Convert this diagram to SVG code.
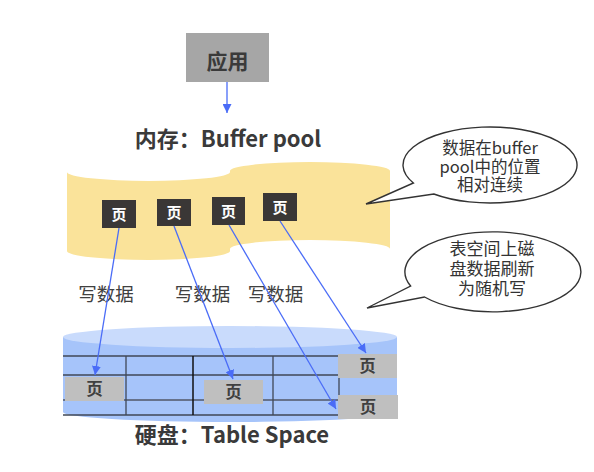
<svg xmlns="http://www.w3.org/2000/svg" width="594" height="472" viewBox="0 0 594 472">
<defs>
<marker id="ah" viewBox="0 0 10 10" refX="10" refY="5" markerWidth="9" markerHeight="9" markerUnits="userSpaceOnUse" orient="auto">
<path d="M0,0 L10,5 L0,10 Z" fill="#4a6cf7"/>
</marker>
<style>
text{font-family:"Noto Sans CJK SC","Microsoft YaHei",sans-serif;}
.title{font-size:22px;font-weight:bold;fill:#3a3a3a;text-anchor:middle;}
.lbl{font-size:18.5px;fill:#404040;text-anchor:middle;}
.dpage rect{fill:#3a3736;}
.dpage text{font-size:15px;font-weight:bold;fill:#ffffff;text-anchor:middle;}
.gpage rect{fill:#bfbfbf;}
.gpage text{font-size:16.5px;font-weight:bold;fill:#404040;text-anchor:middle;}
.conn{stroke:#4a6cf7;stroke-width:1.3;fill:none;marker-end:url(#ah);}
.grid{stroke:#3f4756;stroke-width:1.3;}
.call path{fill:#ffffff;stroke:#333333;stroke-width:1.4;}
.call text{fill:#333333;text-anchor:middle;}
</style>
</defs>
<rect width="594" height="472" fill="#ffffff"/>

<g id="app">
<rect x="186" y="33" width="83" height="49" fill="#a6a6a6"/>
<text x="227.5" y="69" class="title" style="font-size:21px">应用</text>
</g>

<g id="bufferpool">
<path d="M67,172 A81.5,9 0 0 0 230,172 L230,171 A80,9 0 0 1 390,171 L390,249 A80,9 0 0 0 230,249 L230,251 A81.5,9 0 0 1 67,251 Z" fill="#fae39a"/>
<text x="228" y="147" class="title">内存：Buffer pool</text>
</g>

<g id="page1" class="dpage"><rect x="102" y="200" width="34" height="28"/><text x="119" y="219.5">页</text></g>
<g id="page2" class="dpage"><rect x="157" y="199" width="34" height="27"/><text x="174" y="218">页</text></g>
<g id="page3" class="dpage"><rect x="212" y="197" width="33" height="28"/><text x="228.5" y="216.5">页</text></g>
<g id="page4" class="dpage"><rect x="263" y="193" width="34" height="28"/><text x="280" y="212.5">页</text></g>

<g id="tablespace">
<path d="M63,337 L63,412 A167,10 0 0 0 397,412 L397,337 Z" fill="#a6c4fa"/>
<ellipse cx="230" cy="337" rx="167" ry="11" fill="#c9dbfc"/>
<line class="grid" x1="63" y1="356" x2="338" y2="356"/>
<line class="grid" x1="63" y1="375" x2="338" y2="375"/>
<line x1="63" y1="400" x2="338" y2="400" stroke="#66728c" stroke-width="2"/>
<line class="grid" x1="63" y1="415" x2="338" y2="415"/>
<line class="grid" x1="126" y1="356" x2="126" y2="415"/>
<line x1="193" y1="356" x2="193" y2="415" stroke="#111111" stroke-width="1.5"/>
<line class="grid" x1="273" y1="356" x2="273" y2="415"/>
<line class="grid" x1="339" y1="375" x2="339" y2="400"/>
<text x="232" y="443" class="title">硬盘：Table Space</text>
</g>

<g id="diskpageA" class="gpage"><rect x="65" y="377" width="59" height="24"/><text x="94.5" y="395">页</text></g>
<g id="diskpageB" class="gpage"><rect x="204" y="380" width="59" height="24"/><text x="233.5" y="398">页</text></g>
<g id="diskpageC" class="gpage"><rect x="338" y="354" width="59" height="24"/><text x="367.5" y="372">页</text></g>
<g id="diskpageD" class="gpage"><rect x="338" y="395" width="60" height="24"/><text x="368" y="413">页</text></g>

<g id="callout1" class="call" style="font-size:16.5px">
<path d="M413.4,183 A87,38 0 1 1 433.8,194 L366,204 Z"/>
<text x="490" y="154">数据在buffer</text>
<text x="490" y="172.5">pool中的位置</text>
<text x="490" y="191">相对连续</text>
</g>

<g id="callout2" class="call" style="font-size:17px">
<path d="M410.6,286 A88,40 0 1 1 424.5,297 L367,308 Z"/>
<text x="492" y="255">表空间上磁</text>
<text x="492" y="275">盘数据刷新</text>
<text x="492" y="295">为随机写</text>
</g>

<g id="labels">
<text x="106" y="301" class="lbl">写数据</text>
<text x="202.5" y="301" class="lbl">写数据</text>
<text x="275.5" y="301" class="lbl">写数据</text>
</g>

<g id="connectors">
<line class="conn" x1="227" y1="82" x2="227" y2="113"/>
<line class="conn" x1="119" y1="228" x2="95" y2="375"/>
<line class="conn" x1="174" y1="226" x2="233" y2="379"/>
<line class="conn" x1="229" y1="225" x2="336" y2="409"/>
<line class="conn" x1="280" y1="221" x2="366" y2="353"/>
</g>
</svg>
